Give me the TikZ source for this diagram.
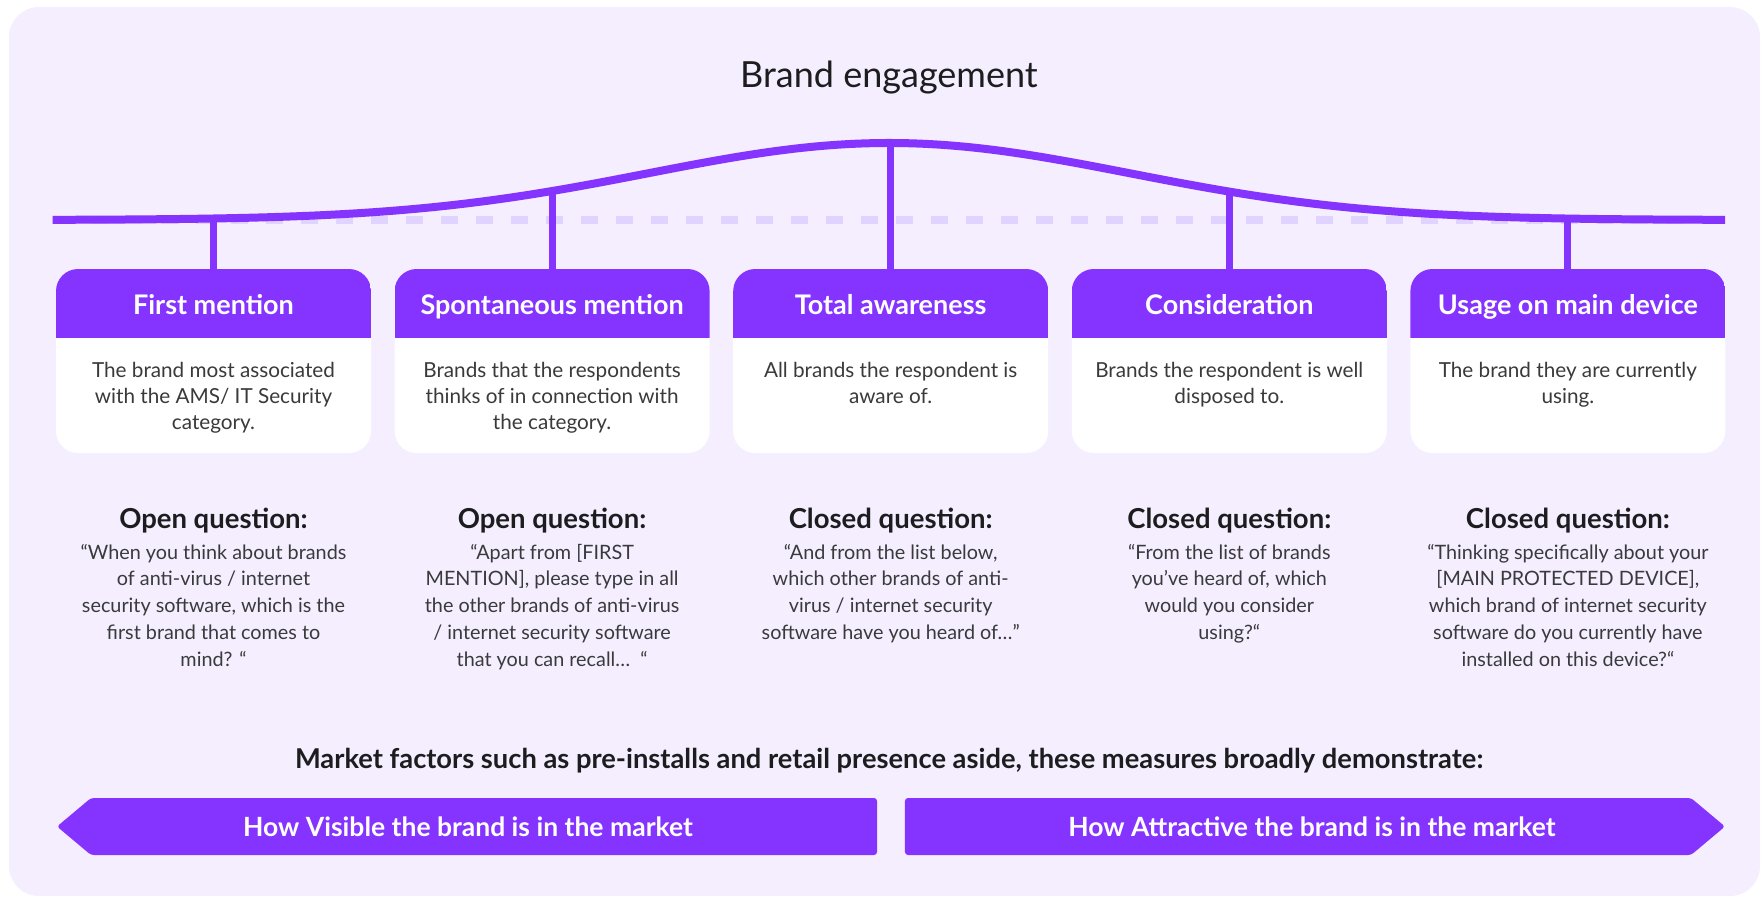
\documentclass[tikz,border=0pt]{standalone}
\usepackage{fontspec}
\setmainfont{Lato}
\usetikzlibrary{shapes.symbols}

\definecolor{kviolet}{HTML}{8533FF}
\definecolor{kpanel}{HTML}{F4EEFE}
\definecolor{kdash}{HTML}{E1D3FF}
\definecolor{kink}{HTML}{1D1D1F}
\definecolor{kgrey}{HTML}{3A3A3C}

\tikzset{
  curve/.style={draw=kviolet, line width=8pt},
  guide/.style={draw=kdash, line width=8pt, dash pattern=on 17pt off 18pt},
  stem/.style={draw=kviolet, line width=7pt},
  card/.style={fill=white, rounded corners=22pt, minimum width=315pt, minimum height=184pt, inner sep=0pt,
    path picture={\fill[kviolet, sharp corners] (path picture bounding box.north west) rectangle ([yshift=-69pt]path picture bounding box.north east);}},
  cardhead/.style={text=white, text height=19.5pt, text depth=6pt, font=\fontsize{27}{32}\selectfont\bfseries},
  cardbody/.style={anchor=north, align=center, inner sep=0pt, text=kgrey, font=\fontsize{20.7}{26.3}\selectfont},
  qhead/.style={text=kink, font=\fontsize{27.5}{32}\selectfont\bfseries},
  qbody/.style={anchor=north, align=center, inner sep=0pt, text=kgrey, font=\fontsize{19.8}{26.8}\selectfont},
  title/.style={text=kink, font=\fontsize{36}{42}\selectfont},
  note/.style={text=kink, font=\fontsize{27.3}{32}\selectfont\bfseries},
  banner/.style={signal, signal pointer angle=80, fill=kviolet, minimum width=820pt, minimum height=57pt, rounded corners=3pt},
  bannertext/.style={text=white, font=\fontsize{26.5}{32}\selectfont\bfseries}
}

\begin{document}
\begin{tikzpicture}[x=1pt,y=-1pt]
\useasboundingbox (0,0) rectangle (1762,898);
\fill[kpanel, rounded corners=30pt] (9,7) rectangle (1760,896);

\node[title] (ttl) at (889,78) {Brand engagement};

% engagement curve over its flat base line
\draw[guide] (56,220) -- (1725,220);
\draw[curve] plot[domain=-3.47:3.47, samples=150, smooth] ({889+241*\x},{220-77*exp(-0.5*\x*\x)});

\foreach \i in {1,...,5}{
  \pgfmathsetmacro\cx{213.5+338.6*(\i-1)}
  \coordinate (k\i) at (\cx,{220-77*exp(-0.5*((\cx-889)/241)^2)});
  \node[card] (b\i) at (\cx,361) {};
  \draw[stem] (k\i) -- (b\i.north);
}

\node[cardhead] (h1) at ([yshift=-38.5pt]b1.north) {First mention};
\node[cardhead] (h2) at ([yshift=-38.5pt]b2.north) {Spontaneous mention};
\node[cardhead] (h3) at ([yshift=-38.5pt]b3.north) {Total awareness};
\node[cardhead] (h4) at ([yshift=-38.5pt]b4.north) {Consideration};
\node[cardhead] (h5) at ([yshift=-38.5pt]b5.north) {Usage on main device};

\node[cardbody] (d1) at ([yshift=-93pt]b1.north) {The brand most associated\\with the AMS/ IT Security\\category.};
\node[cardbody] (d2) at ([yshift=-93pt]b2.north) {Brands that the respondents\\thinks of in connection with\\the category.};
\node[cardbody] (d3) at ([yshift=-93pt]b3.north) {All brands the respondent is\\aware of.};
\node[cardbody] (d4) at ([yshift=-93pt]b4.north) {Brands the respondent is well\\disposed to.};
\node[cardbody] (d5) at ([yshift=-93pt]b5.north) {The brand they are currently\\using.};

\node[qhead] (q1) at ([yshift=-252pt]b1.north) {Open question:};
\node[qhead] (q2) at ([yshift=-252pt]b2.north) {Open question:};
\node[qhead] (q3) at ([yshift=-252pt]b3.north) {Closed question:};
\node[qhead] (q4) at ([yshift=-252pt]b4.north) {Closed question:};
\node[qhead] (q5) at ([yshift=-252pt]b5.north) {Closed question:};

\node[qbody] (a1) at ([yshift=-275pt]b1.north) {“When you think about brands\\of anti-virus / internet\\security software, which is the\\first brand that comes to\\mind? “};
\node[qbody] (a2) at ([yshift=-275pt]b2.north) {“Apart from [FIRST\\MENTION], please type in all\\the other brands of anti-virus\\/ internet security software\\that you can recall…~ “};
\node[qbody] (a3) at ([yshift=-275pt]b3.north) {“And from the list below,\\which other brands of anti-\\virus / internet security\\software have you heard of…"};
\node[qbody] (a4) at ([yshift=-275pt]b4.north) {“From the list of brands\\you’ve heard of, which\\would you consider\\using?“};
\node[qbody] (a5) at ([yshift=-275pt]b5.north) {“Thinking specifically about your\\{}[MAIN PROTECTED DEVICE],\\which brand of internet security\\software do you currently have\\installed on this device?“};

\node[note] (mf) at (889,761) {Market factors such as pre-installs and retail presence aside, these measures broadly demonstrate:};

\node[banner, signal to=west] (vis) at (484,826.5) {};
\node[banner, signal to=east] (att) at (1298,826.5) {};
\node[bannertext] (vist) at (468,826.5) {How Visible the brand is in the market};
\node[bannertext] (attt) at (1312,826.5) {How Attractive the brand is in the market};
\end{tikzpicture}
\end{document}
